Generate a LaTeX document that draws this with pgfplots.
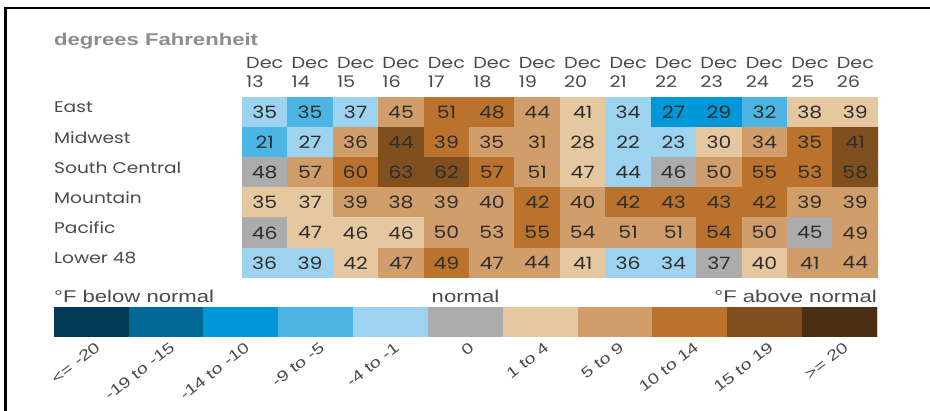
\documentclass[border=0pt]{standalone}
\usepackage{fontspec}
\setmainfont{Liberation Sans}
\newfontfamily\headfont{Liberation Sans}[FakeStretch=1.3]
\newfontfamily\geo{Poppins}[FakeStretch=1.2]
\usepackage{pgfplots}
\pgfplotsset{compat=1.18}
\usepackage{pgfplotstable}

\definecolor{titlegray}{HTML}{8C8C8C}
\definecolor{labgray}{HTML}{4A4A4A}
\definecolor{celltxt}{HTML}{2E2E2E}

% c = colour class (0: <= -20 ... 5: normal ... 10: >= 20), v = temperature
% y: 5 = East ... 0 = Lower 48
\pgfplotstableread{
x y c v
0 5 4 35
1 5 3 35
2 5 4 37
3 5 7 45
4 5 8 51
5 5 8 48
6 5 7 44
7 5 6 41
8 5 4 34
9 5 2 27
10 5 2 29
11 5 3 32
12 5 6 38
13 5 6 39
0 4 3 21
1 4 4 27
2 4 7 36
3 4 9 44
4 4 8 39
5 4 7 35
6 4 7 31
7 4 6 28
8 4 4 22
9 4 4 23
10 4 6 30
11 4 7 34
12 4 8 35
13 4 9 41
0 3 5 48
1 3 7 57
2 3 8 60
3 3 9 63
4 3 9 62
5 3 8 57
6 3 7 51
7 3 6 47
8 3 4 44
9 3 5 46
10 3 7 50
11 3 8 55
12 3 8 53
13 3 9 58
0 2 6 35
1 2 6 37
2 2 7 39
3 2 7 38
4 2 7 39
5 2 7 40
6 2 8 42
7 2 7 40
8 2 8 42
9 2 8 43
10 2 8 43
11 2 8 42
12 2 7 39
13 2 7 39
0 1 5 46
1 1 6 47
2 1 6 46
3 1 6 46
4 1 7 50
5 1 7 53
6 1 8 55
7 1 7 54
8 1 7 51
9 1 7 51
10 1 8 54
11 1 7 50
12 1 5 45
13 1 7 49
0 0 4 36
1 0 4 39
2 0 6 42
3 0 7 47
4 0 8 49
5 0 7 47
6 0 7 44
7 0 6 41
8 0 4 36
9 0 4 34
10 0 5 37
11 0 6 40
12 0 7 41
13 0 7 44
}\heat

% legend bar; the second row only lets matrix plot size the cells (clipped)
\pgfplotstableread{
x y c
0 0 0
1 0 1
2 0 2
3 0 3
4 0 4
5 0 5
6 0 6
7 0 7
8 0 8
9 0 9
10 0 10
0 1 0
1 1 1
2 1 2
3 1 3
4 1 4
5 1 5
6 1 6
7 1 7
8 1 8
9 1 9
10 1 10
}\legtab

\pgfplotsset{
    colormap={anom}{
        rgb255=(0,58,85) rgb255=(0,105,150) rgb255=(0,151,217)
        rgb255=(77,181,228) rgb255=(157,211,239) rgb255=(172,172,172)
        rgb255=(230,200,160) rgb255=(209,157,106) rgb255=(187,114,44)
        rgb255=(127,80,30) rgb255=(75,47,18)
    },
}

\begin{document}
\begin{tikzpicture}
    \useasboundingbox (0,0) rectangle (930pt,-411pt);
    \draw[line width=2.7pt, line cap=rect] (5.3pt,-420pt) -- (5.3pt,-8pt) -- (940pt,-8pt);

    \node[anchor=base west, inner sep=0pt, text=titlegray,
        font={\headfont\bfseries\fontsize{17}{20}\selectfont}]
        at (54pt,-46pt) {degrees Fahrenheit};

    \begin{axis}[
        at={(242pt,-97pt)}, anchor=north west,
        scale only axis,
        width=636pt, height=181pt,
        xmin=-0.5, xmax=13.5,
        ymin=-0.5, ymax=5.5,
        axis line style={draw=none},
        major tick length=0pt,
        colormap name=anom,
        colormap access=direct,
        xtick={-0.5,0.5,1.5,2.5,3.5,4.5,5.5,6.5,7.5,8.5,9.5,10.5,11.5,12.5},
        xticklabels={{Dec\\13},{Dec\\14},{Dec\\15},{Dec\\16},{Dec\\17},
            {Dec\\18},{Dec\\19},{Dec\\20},{Dec\\21},{Dec\\22},{Dec\\23},
            {Dec\\24},{Dec\\25},{Dec\\26}},
        xticklabel pos=upper,
        xticklabel style={anchor=south west, align=left, inner sep=0pt,
            xshift=4pt, yshift=9pt, text=labgray,
            font={\geo\fontsize{16}{19}\selectfont}},
        ytick={0,1,2,3,4,5},
        yticklabels={Lower 48,Pacific,Mountain,South Central,Midwest,East},
        yticklabel style={anchor=west, inner sep=0pt, xshift=-188pt,
            yshift=5pt, text=labgray,
            font={\geo\fontsize{15.5}{18}\selectfont}},
    ]
        \addplot[matrix plot*, mesh/cols=14, point meta=explicit]
            table[x=x, y=y, meta=c] {\heat};
        \addplot[draw=none, mark=none,
            point meta=explicit symbolic,
            nodes near coords={\pgfplotspointmeta},
            nodes near coords style={anchor=center, text=celltxt,
                font={\geo\fontsize{17}{19}\selectfont}}]
            table[x=x, y=y, meta=v] {\heat};
    \end{axis}

    \node[anchor=base west, inner sep=0pt, text=labgray,
        font={\headfont\fontsize{17}{20}\selectfont}]
        at (54pt,-303pt) {°F below normal};
    \node[anchor=base, inner sep=0pt, text=labgray,
        font={\headfont\fontsize{17}{20}\selectfont}]
        at (465.5pt,-303pt) {normal};
    \node[anchor=base east, inner sep=0pt, text=labgray,
        font={\headfont\fontsize{17}{20}\selectfont}]
        at (877pt,-303pt) {°F above normal};

    \begin{axis}[
        at={(54pt,-308pt)}, anchor=north west,
        scale only axis,
        width=823pt, height=29pt,
        xmin=-0.5, xmax=10.5,
        ymin=-0.5, ymax=0.5,
        axis line style={draw=none},
        major tick length=0pt,
        colormap name=anom,
        colormap access=direct,
        ytick=\empty,
        xtick={0,1,2,3,4,5,6,7,8,9,10},
        xticklabels={{<= -20},{-19 to -15},{-14 to -10},{-9 to -5},{-4 to -1},
            {0},{1 to 4},{5 to 9},{10 to 14},{15 to 19},{>= 20}},
        xticklabel style={rotate=38, anchor=north east, inner sep=0pt,
            yshift=-5pt, text=labgray,
            font={\headfont\fontsize{15}{18}\selectfont}},
    ]
        \addplot[matrix plot*, mesh/cols=11, point meta=explicit]
            table[x=x, y=y, meta=c] {\legtab};
    \end{axis}
\end{tikzpicture}
\end{document}
